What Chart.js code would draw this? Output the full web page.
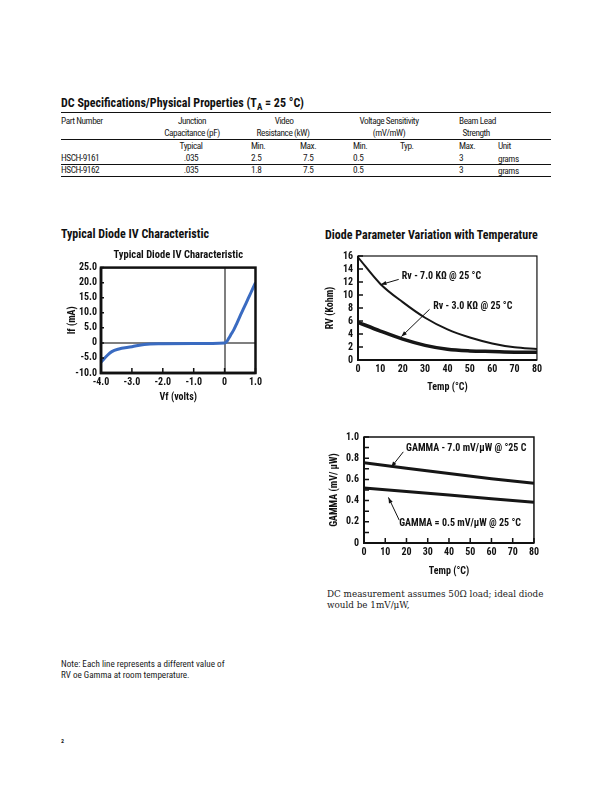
<!DOCTYPE html>
<html>
<head>
<meta charset="utf-8">
<title>HSCH-9161 / HSCH-9162</title>
<script src="https://cdn.jsdelivr.net/npm/chart.js@4.4.1/dist/chart.umd.min.js"></script>
<style>
  body { margin: 0; background: #fff; }
  #page { position: relative; width: 612px; height: 792px; overflow: hidden; color: #111;
    font-family: "Roboto Condensed", "DejaVu Sans Condensed", sans-serif; }
  .t { position: absolute; white-space: nowrap; font-size: 9.5px; line-height: 1; color: #1a1a1a; }
  .cell { font-size: 9.3px; letter-spacing: -0.45px; }
  .c { width: 120px; text-align: center; }
  .h { font-weight: bold; font-size: 12px; color: #111; }
  .rule { position: absolute; left: 61px; width: 490px; height: 0; border-top: 1px solid #111; }
  .serif { font-family: "DejaVu Serif", serif; font-size: 8.8px; line-height: 11px; }
  canvas { position: absolute; }
</style>
</head>
<body>
<div id="page">
  <div class="t h" style="left:61px; top:97px;">DC Specifications/Physical Properties (T<sub style="font-size:9px;">A</sub> = 25 °C)</div>
  <div class="rule" style="top:112px; border-top-width:1.4px;"></div>
  <div id="table"></div>
  <div class="rule" style="top:139px;"></div>
  <div class="rule" style="top:164px;"></div>
  <div class="rule" style="top:176px;"></div>

  <div class="t h" style="left:61px; top:228px;">Typical Diode IV Characteristic</div>
  <div class="t h" style="left:325px; top:229px;">Diode Parameter Variation with Temperature</div>

  <canvas id="iv" width="205" height="160" style="left:60px; top:245px;"></canvas>
  <canvas id="rv" width="225" height="150" style="left:320px; top:245px;"></canvas>
  <canvas id="gamma" width="222" height="154" style="left:320px; top:425px;"></canvas>

  <div class="t serif" style="left:327px; top:589px;">DC measurement assumes 50Ω load; ideal diode<br>would be 1mV/μW,</div>
  <div class="t" style="left:61px; top:659px; font-size:9.1px; line-height:10.5px;">Note: Each line represents a different value of<br>RV oe Gamma at room temperature.</div>
  <div class="t" style="left:61px; top:738px; font-size:6px; font-weight:bold;">2</div>
</div>
<script>
const FONT = '"Roboto Condensed", "DejaVu Sans Condensed", sans-serif'

// table values
const parts = ['HSCH-9161', 'HSCH-9162']
const capTypical = ['.035', '.035']
const videoMin = ['2.5', '1.8']
const videoMax = ['7.5', '7.5']
const sensMin = ['0.5', '0.5']
const leadMax = ['3', '3']
const leadUnit = ['grams', 'grams']

// typical diode IV characteristic (volts, mA)
const ivVolts = [-4.0, -3.8, -3.65, -3.45, -3.0, -2.6, -2.0, -1.0, 0, 0.07, 0.14, 0.22, 0.3, 0.4, 0.5, 0.6, 0.7, 0.8, 0.9, 1.0]
const ivCurrent = [-6.4, -4.2, -2.9, -2.1, -1.3, -0.5, -0.3, -0.2, 0, 0.5, 1.6, 3.0, 4.4, 6.6, 8.9, 11.1, 13.3, 15.5, 17.8, 20.0]

// video resistance vs temperature (kohm)
const rvTemps = [0, 10, 20, 30, 40, 50, 60, 70, 80]
const rv7 = [15.8, 11.7, 8.9, 6.5, 4.7, 3.45, 2.55, 1.95, 1.7]
const rv3 = [5.8, 4.45, 3.2, 2.25, 1.65, 1.4, 1.3, 1.2, 1.2]

// gamma vs temperature (mV/uW)
const gammaTemps = [0, 20, 40, 60, 80]
const gamma7 = [0.757, 0.705, 0.655, 0.607, 0.563]
const gamma05 = [0.52, 0.486, 0.452, 0.418, 0.385]

// build the spec table out of the arrays above
const table = document.getElementById('table')
const cell = (text, x, y, centred) => {
  const d = document.createElement('div')
  d.className = centred ? 't cell c' : 't cell'
  d.style.left = (centred ? x - 60 : x) + 'px'
  d.style.top = (y - 5) + 'px'
  d.textContent = text
  table.appendChild(d)
}
cell('Part Number', 61, 120.5)
cell('Junction', 192, 120.5, true)
cell('Capacitance (pF)', 192, 132.5, true)
cell('Video', 284, 120.5, true)
cell('Resistance (kW)', 283, 132.5, true)
cell('Voltage Sensitivity', 389, 120.5, true)
cell('(mV/mW)', 389, 132.5, true)
cell('Beam Lead', 459, 120.5)
cell('Strength', 462.5, 132.5)
cell('Typical', 191, 146, true)
cell('Min.', 251, 146)
cell('Max.', 300, 146)
cell('Min.', 353, 146)
cell('Typ.', 400, 146)
cell('Max.', 459, 146)
cell('Unit', 498, 146)
parts.forEach((p, i) => {
  const y = 158.3 + i * 11.8
  cell(p, 61, y)
  cell(capTypical[i], 191, y, true)
  cell(videoMin[i], 251, y)
  cell(videoMax[i], 303, y)
  cell(sensMin[i], 353, y)
  cell(leadMax[i], 459, y)
  cell(leadUnit[i], 498, y + 1)
})

Chart.defaults.font.family = FONT
Chart.defaults.color = '#111'
Chart.defaults.animation = false

// box round the plot plus short ticks on the inside
const frame = {
  id: 'frame',
  afterDatasetsDraw (chart, args, opts) {
    const { ctx, chartArea: a, scales: { x, y } } = chart
    ctx.save()
    ctx.strokeStyle = '#111'
    ctx.lineWidth = 1.5
    ctx.beginPath()
    y.ticks.forEach(t => {
      const py = y.getPixelForValue(t.value)
      ctx.moveTo(a.left, py)
      ctx.lineTo(a.left + opts.yTick, py)
    })
    if (opts.xTick) {
      x.ticks.forEach(t => {
        const px = x.getPixelForValue(t.value)
        ctx.moveTo(px, a.bottom)
        ctx.lineTo(px, a.bottom - opts.xTick)
      })
    }
    ctx.stroke()
    ctx.lineWidth = opts.thin
    ctx.strokeRect(a.left, a.top, a.width, a.height)
    ctx.lineWidth = opts.heavy
    ctx.beginPath()
    ctx.moveTo(a.left, a.top)
    ctx.lineTo(a.left, a.bottom)
    ctx.lineTo(a.right, a.bottom)
    ctx.stroke()
    ctx.restore()
  }
}

// curve labels with arrows, placed in data units
const notes = {
  id: 'notes',
  afterDatasetsDraw (chart, args, opts) {
    if (!opts.items) return
    const { ctx, scales: { x, y } } = chart
    ctx.save()
    ctx.font = `bold 10px ${FONT}`
    ctx.fillStyle = '#111'
    ctx.strokeStyle = '#111'
    ctx.textBaseline = 'middle'
    opts.items.forEach((n) => {
      ctx.fillText(n.text, x.getPixelForValue(n.at[0]), y.getPixelForValue(n.at[1]))
      const x0 = x.getPixelForValue(n.from[0])
      const y0 = y.getPixelForValue(n.from[1])
      const x1 = x.getPixelForValue(n.to[0])
      const y1 = y.getPixelForValue(n.to[1])
      const ang = Math.atan2(y1 - y0, x1 - x0)
      ctx.lineWidth = 1
      ctx.beginPath()
      ctx.moveTo(x0, y0)
      ctx.lineTo(x1, y1)
      ctx.stroke()
      ctx.beginPath()
      ctx.moveTo(x1, y1)
      ctx.lineTo(x1 - 6 * Math.cos(ang - 0.35), y1 - 6 * Math.sin(ang - 0.35))
      ctx.lineTo(x1 - 6 * Math.cos(ang + 0.35), y1 - 6 * Math.sin(ang + 0.35))
      ctx.closePath()
      ctx.fill()
    })
    ctx.restore()
  }
}

const bold = { size: 10, weight: 'bold' }
const points = (xs, ys) => xs.map((v, i) => ({ x: v, y: ys[i] }))

// generate a linear axis with a fixed thickness
const axis = (min, max, step, size, title, titlePad, tickPad, fmt, horizontal) => ({
  type: 'linear',
  min,
  max,
  ticks: { stepSize: step, font: bold, padding: tickPad, autoSkip: false, maxRotation: 0, callback: fmt },
  grid: { display: false, drawTicks: false },
  border: { display: false },
  title: { display: true, text: title, font: bold, padding: titlePad },
  afterFit: (s) => { if (horizontal) s.height = size; else s.width = size }
})

const oneDp = v => v === 0 ? '0' : v.toFixed(1)

// IV chart
const ivX = axis(-4, 1, 1, 32, 'Vf (volts)', { top: 0, bottom: 2 }, 3, oneDp, true)
const ivY = axis(-10, 25, 5, 41, 'If (mA)', { top: 6, bottom: 0 }, 4, oneDp, false)
const zeroLine = { display: true, drawTicks: false, lineWidth: 2, color: c => c.tick && c.tick.value === 0 ? '#7f7f7f' : 'rgba(0,0,0,0)' }
ivX.grid = zeroLine
ivY.grid = zeroLine
new Chart(document.getElementById('iv'), {
  type: 'line',
  data: {
    datasets: [{
      data: points(ivVolts, ivCurrent),
      borderColor: '#3a6bc1',
      borderWidth: 3,
      pointRadius: 0,
      cubicInterpolationMode: 'monotone'
    }]
  },
  options: {
    responsive: false,
    layout: { padding: { left: 0, right: 8, top: 0, bottom: 0 } },
    scales: { x: ivX, y: ivY },
    plugins: {
      legend: { display: false },
      tooltip: { enabled: false },
      title: { display: true, text: 'Typical Diode IV Characteristic', font: { size: 10.5, weight: 'bold' }, padding: { top: 4, bottom: 6 }, fullSize: false },
      frame: { yTick: 3, xTick: 5, thin: 2.5, heavy: 2.5 }
    }
  },
  plugins: [frame]
})

// RV chart
new Chart(document.getElementById('rv'), {
  type: 'line',
  data: {
    datasets: [
      { data: points(rvTemps, rv7), borderColor: '#161616', borderWidth: 2, pointRadius: 0, cubicInterpolationMode: 'monotone' },
      { data: points(rvTemps, rv3), borderColor: '#161616', borderWidth: 3.5, pointRadius: 0, cubicInterpolationMode: 'monotone' }
    ]
  },
  options: {
    responsive: false,
    layout: { padding: { left: 0, right: 7, top: 11, bottom: 0 } },
    scales: {
      x: axis(0, 80, 10, 35, 'Temp (°C)', { top: 0, bottom: 2 }, 3, v => v, true),
      y: axis(0, 16, 2, 38, 'RV (Kohm)', { top: 4, bottom: 0 }, 5, v => v, false)
    },
    plugins: {
      legend: { display: false },
      tooltip: { enabled: false },
      frame: { yTick: 5, xTick: 0, thin: 1.2, heavy: 2 },
      notes: {
        items: [
          { text: 'Rv - 7.0 KΩ @ 25 °C', at: [19.6, 12.8], from: [18.2, 12.4], to: [10.2, 11.6] },
          { text: 'Rv - 3.0 KΩ @ 25 °C', at: [33.6, 8.3], from: [32.0, 7.8], to: [19.4, 3.6] }
        ]
      }
    }
  },
  plugins: [frame, notes]
})

// gamma chart
const gammaLabel = (v) => {
  const k = Math.round(v * 10)
  if (k % 2) return ''
  return k === 0 ? '0' : (k / 10).toFixed(1)
}
new Chart(document.getElementById('gamma'), {
  type: 'line',
  data: {
    datasets: [
      { data: points(gammaTemps, gamma7), borderColor: '#161616', borderWidth: 3, pointRadius: 0 },
      { data: points(gammaTemps, gamma05), borderColor: '#161616', borderWidth: 3, pointRadius: 0 }
    ]
  },
  options: {
    responsive: false,
    layout: { padding: { left: 0, right: 8, top: 12, bottom: 0 } },
    scales: {
      x: axis(0, 80, 10, 36, 'Temp (°C)', { top: 0, bottom: 2 }, 3, v => v, true),
      y: axis(0, 1, 0.1, 44, 'GAMMA (mV/ μW)', { top: 8, bottom: 0 }, 5, gammaLabel, false)
    },
    plugins: {
      legend: { display: false },
      tooltip: { enabled: false },
      frame: { yTick: 5, xTick: 5, thin: 1.5, heavy: 2 },
      notes: {
        items: [
          { text: 'GAMMA - 7.0 mV/μW @ °25 C', at: [19.8, 0.893], from: [18.5, 0.86], to: [12.8, 0.715] },
          { text: 'GAMMA = 0.5 mV/μW @ 25 °C', at: [16.6, 0.18], from: [16.6, 0.215], to: [11.5, 0.43] }
        ]
      }
    }
  },
  plugins: [frame, notes]
})
</script>
</body>
</html>
